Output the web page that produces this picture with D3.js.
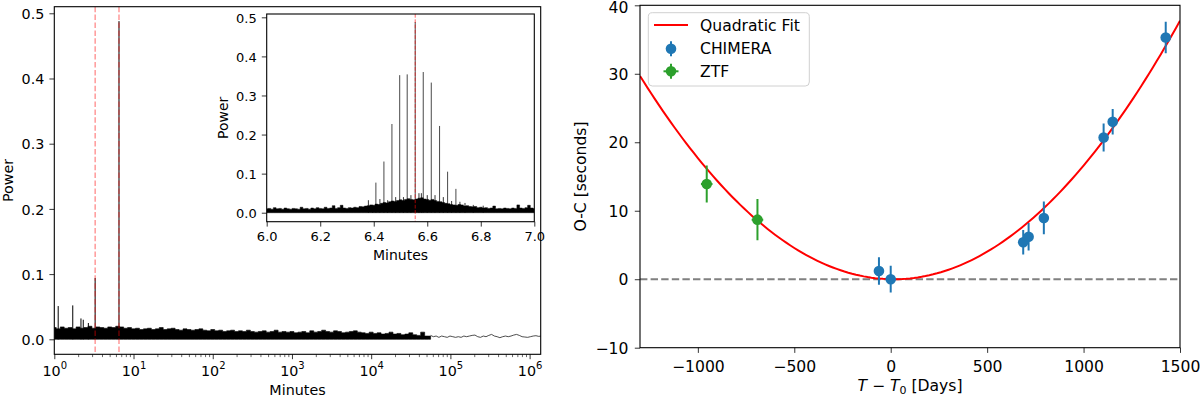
<!DOCTYPE html>
<html>
<head>
<meta charset="utf-8">
<script src="https://cdn.jsdelivr.net/npm/d3@7"></script>
<style>
  body { margin: 0; background: #fff; }
  text { font-family: "DejaVu Sans", sans-serif; fill: #000; }
</style>
</head>
<body>
<svg id="chart" width="1200" height="396"></svg>
<script>
// ---------------- data ----------------
// periodogram peaks (minutes)
var peakMinutes = 6.555;
var halfPeakMinutes = 3.2775;

// noise band of the full periodogram: upper envelope of power,
// sampled on log10(minutes) from 0 to 4.75 every 0.05
var bandLogStart = 0, bandLogStep = 0.05;
var bandPower = [
  0.018,0.016,0.019,0.017,0.018,0.016,0.019,0.017,0.018,0.020,
  0.017,0.019,0.018,0.017,0.019,0.018,0.020,0.019,0.017,0.018,
  0.016,0.017,0.015,0.016,0.017,0.015,0.016,0.018,0.015,0.016,
  0.017,0.015,0.014,0.016,0.015,0.014,0.015,0.016,0.014,0.013,
  0.015,0.013,0.014,0.012,0.013,0.014,0.012,0.013,0.012,0.014,
  0.012,0.011,0.012,0.013,0.011,0.012,0.014,0.011,0.012,0.011,
  0.012,0.010,0.011,0.012,0.010,0.013,0.011,0.012,0.014,0.012,
  0.011,0.013,0.012,0.010,0.011,0.012,0.013,0.011,0.010,0.009,
  0.011,0.009,0.010,0.008,0.009,0.011,0.008,0.009,0.007,0.008,
  0.010,0.007,0.006,0.011,0.005,0.005
];
// long-period tail: log10(minutes) from 4.75 every 0.035
var tailLogStart = 4.75, tailLogStep = 0.035;
var tailPower = [
  0.006,0.004,0.005,0.003,0.005,0.004,0.003,0.005,0.004,0.003,
  0.004,0.003,0.005,0.004,0.005,0.006,0.0065,0.004,0.003,0.005,
  0.004,0.006,0.0075,0.005,0.004,0.0025,0.004,0.005,0.004,0.005,
  0.0065,0.0075,0.006,0.004,0.0035,0.003,0.004,0.005,0.0055,0.0045,0.005
];
// isolated spikes in the full periodogram
var spikeMinutes = [1.12, 1.71, 2.17, 2.32, 2.69, 3.2775, 6.555];
var spikePower   = [0.051, 0.052, 0.032, 0.030, 0.025, 0.094, 0.488];

// inset: zoom 6-7 minutes
var insetLogStart = 6.0, insetStep = 0.01;
var insetBand = [
  0.010,0.011,0.009,0.013,0.010,0.011,0.009,0.012,0.010,0.009,
  0.011,0.010,0.009,0.014,0.010,0.011,0.009,0.012,0.010,0.013,
  0.011,0.010,0.014,0.011,0.012,0.018,0.011,0.013,0.019,0.012,
  0.011,0.013,0.012,0.014,0.013,0.016,0.015,0.017,0.018,0.020,
  0.019,0.022,0.021,0.024,0.026,0.025,0.028,0.030,0.029,0.031,
  0.033,0.031,0.034,0.036,0.034,0.033,0.035,0.037,0.038,0.035,
  0.034,0.032,0.034,0.031,0.029,0.028,0.026,0.024,0.023,0.021,
  0.020,0.019,0.021,0.020,0.017,0.018,0.016,0.015,0.016,0.013,
  0.014,0.012,0.013,0.011,0.012,0.017,0.010,0.011,0.010,0.012,
  0.011,0.010,0.012,0.011,0.020,0.012,0.011,0.013,0.019,0.012,
  0.011
];
var insetPeakMin = [6.408,6.438,6.468,6.497,6.525,6.555,6.585,6.615,6.646,6.676,6.707];
var insetPeakPow = [0.077,0.131,0.227,0.352,0.354,0.488,0.360,0.333,0.222,0.105,0.061];
var insetSideMin = [6.380,6.396,6.423,6.452,6.482,6.511,6.539,6.569,6.578,6.600,6.629,6.660,6.691,6.722,6.741,6.772,6.809];
var insetSidePow = [0.032,0.020,0.035,0.032,0.040,0.040,0.045,0.050,0.050,0.045,0.045,0.040,0.030,0.028,0.025,0.020,0.018];

// O-C diagram
var chimeraT   = [-61, 0, 687, 715, 794, 1104, 1151, 1426];
var chimeraOC  = [1.2, 0.0, 5.4, 6.2, 8.95, 20.7, 23.0, 35.3];
var chimeraErr = [2.0, 1.95, 1.8, 2.0, 2.4, 2.05, 1.85, 2.3];
var ztfT    = [-954, -691];
var ztfOC   = [13.9, 8.7];
var ztfErr  = [2.7, 3.0];
var ztfTErr = [30, 30];
// quadratic fit  O-C = a (T - t0)^2
var fitA = 1.714e-5, fitT0 = 16;

var mainYTicks = [0, 0.1, 0.2, 0.3, 0.4, 0.5];
var insetXTicks = [6.0, 6.2, 6.4, 6.6, 6.8, 7.0];
var ocXTicks = [-1000, -500, 0, 500, 1000, 1500];
var ocYTicks = [-10, 0, 10, 20, 30, 40];

// ---------------- drawing ----------------
var svg = d3.select("#chart");
var blue = "#1f77b4", green = "#2ca02c";
var fsL = 14.3, fsR = 15.6;

function styleAxis(g, fs) {
  g.select(".domain").remove();
  g.selectAll(".tick line").attr("stroke", "#000").attr("stroke-width", 0.8);
  g.selectAll(".tick text").attr("fill", "#000").style("font-size", fs + "px")
    .style("font-family", "DejaVu Sans");
}
function frame(x0, y0, x1, y1) {
  svg.append("rect").attr("x", x0).attr("y", y0).attr("width", x1 - x0).attr("height", y1 - y0)
    .attr("fill", "none").attr("stroke", "#000").attr("stroke-width", 1.1);
}

// ===== left: full periodogram =====
var L = {x0: 54.3, x1: 540.7, y0: 6.7, y1: 354.3};
var mx = d3.scaleLog().domain([1, Math.pow(10, 6.14)]).range([L.x0, L.x1]);
var my = d3.scaleLinear().domain([-0.023, 0.5101]).range([L.y1, L.y0]);

svg.append("clipPath").attr("id", "clipL").append("rect")
  .attr("x", L.x0).attr("y", L.y0).attr("width", L.x1 - L.x0).attr("height", L.y1 - L.y0);
var gl = svg.append("g").attr("clip-path", "url(#clipL)");

var band = bandPower.map(function(p, i) { return {m: Math.pow(10, bandLogStart + i * bandLogStep), p: p}; });
var tail = tailPower.map(function(p, i) { return {m: Math.pow(10, tailLogStart + i * tailLogStep), p: p}; });

gl.append("path").datum(band)
  .attr("d", d3.area().curve(d3.curveStep)
    .x(function(d) { return mx(d.m); }).y0(my(0)).y1(function(d) { return my(d.p); }))
  .attr("fill", "#000").attr("stroke", "#000").attr("stroke-width", 0.6);
gl.append("path").datum(tail)
  .attr("d", d3.line().x(function(d) { return mx(d.m); }).y(function(d) { return my(d.p); }))
  .attr("fill", "none").attr("stroke", "#222").attr("stroke-width", 0.8);
gl.selectAll("line.spike").data(spikeMinutes).enter().append("line")
  .attr("x1", function(d) { return mx(d); }).attr("x2", function(d) { return mx(d); })
  .attr("y1", my(0)).attr("y2", function(d, i) { return my(spikePower[i]); })
  .attr("stroke", "#000").attr("stroke-width", 1);
gl.selectAll("line.period").data([halfPeakMinutes, peakMinutes]).enter().append("line")
  .attr("x1", function(d) { return mx(d); }).attr("x2", function(d) { return mx(d); })
  .attr("y1", L.y0).attr("y2", L.y1)
  .attr("stroke", "red").attr("stroke-opacity", 0.5).attr("stroke-width", 1.2)
  .attr("stroke-dasharray", "5.5,2.4");

// log x axis
var majors = d3.range(0, 7).map(function(k) { return Math.pow(10, k); });
var minors = [];
majors.slice(0, 6).forEach(function(b) { for (var m = 2; m <= 9; m++) minors.push(m * b); });
var gxMin = svg.append("g").attr("transform", "translate(0," + L.y1 + ")")
  .call(d3.axisBottom(mx).tickValues(minors).tickSize(2.8).tickFormat(""));
styleAxis(gxMin, fsL);
gxMin.selectAll(".tick line").attr("stroke-width", 0.6);
var gx = svg.append("g").attr("transform", "translate(0," + L.y1 + ")")
  .call(d3.axisBottom(mx).tickValues(majors).tickSize(4.9).tickFormat(""));
styleAxis(gx, fsL);
gx.selectAll(".tick").each(function(d) {
  var t = d3.select(this).append("text").attr("y", 21.3).attr("text-anchor", "middle")
    .attr("fill", "#000").style("font-size", fsL + "px");
  t.append("tspan").text("10");
  t.append("tspan").attr("dy", -6.4).style("font-size", "10px").text(Math.round(Math.log10(d)));
});
var gy = svg.append("g").attr("transform", "translate(" + L.x0 + ",0)")
  .call(d3.axisLeft(my).tickValues(mainYTicks).tickSize(4.9).tickPadding(5.1).tickFormat(d3.format(".1f")));
styleAxis(gy, fsL);
gy.selectAll(".tick text").attr("dy", "0.36em");
frame(L.x0, L.y0, L.x1, L.y1);

svg.append("text").attr("transform", "translate(13.3," + (L.y0 + L.y1) / 2 + ") rotate(-90)")
  .attr("text-anchor", "middle").style("font-size", fsL + "px").text("Power");
svg.append("text").attr("x", (L.x0 + L.x1) / 2).attr("y", 394.5)
  .attr("text-anchor", "middle").style("font-size", fsL + "px").text("Minutes");

// ===== inset =====
var I = {x0: 266.7, x1: 534.3, y0: 14, y1: 221.7};
var ix = d3.scaleLinear().domain([6, 7]).range([I.x0, I.x1]);
var iy = d3.scaleLinear().domain([-0.023, 0.5085]).range([I.y1, I.y0]);
svg.append("rect").attr("x", I.x0).attr("y", I.y0).attr("width", I.x1 - I.x0).attr("height", I.y1 - I.y0)
  .attr("fill", "#fff");
svg.append("clipPath").attr("id", "clipI").append("rect")
  .attr("x", I.x0).attr("y", I.y0).attr("width", I.x1 - I.x0).attr("height", I.y1 - I.y0);
var gi = svg.append("g").attr("clip-path", "url(#clipI)");

var iband = insetBand.map(function(p, i) { return {m: insetLogStart + i * insetStep, p: p}; });
gi.append("path").datum(iband)
  .attr("d", d3.area().curve(d3.curveStep)
    .x(function(d) { return ix(d.m); }).y0(iy(0)).y1(function(d) { return iy(d.p); }))
  .attr("fill", "#000").attr("stroke", "#000").attr("stroke-width", 0.5);
gi.selectAll("line.side").data(insetSideMin).enter().append("line")
  .attr("x1", function(d) { return ix(d); }).attr("x2", function(d) { return ix(d); })
  .attr("y1", iy(0)).attr("y2", function(d, i) { return iy(insetSidePow[i]); })
  .attr("stroke", "#000").attr("stroke-width", 0.8);
gi.selectAll("line.peak").data(insetPeakMin).enter().append("line")
  .attr("x1", function(d) { return ix(d); }).attr("x2", function(d) { return ix(d); })
  .attr("y1", iy(0)).attr("y2", function(d, i) { return iy(insetPeakPow[i]); })
  .attr("stroke", "#000").attr("stroke-opacity", 0.8).attr("stroke-width", 0.9);
gi.append("line").attr("x1", ix(peakMinutes)).attr("x2", ix(peakMinutes))
  .attr("y1", I.y0).attr("y2", I.y1)
  .attr("stroke", "red").attr("stroke-opacity", 0.6).attr("stroke-width", 1)
  .attr("stroke-dasharray", "3.7,1.6");

var gix = svg.append("g").attr("transform", "translate(0," + I.y1 + ")")
  .call(d3.axisBottom(ix).tickValues(insetXTicks).tickSize(4.9).tickFormat(d3.format(".1f")));
styleAxis(gix, 13);
gix.selectAll(".tick text").attr("y", 19.5).attr("dy", null);
var giy = svg.append("g").attr("transform", "translate(" + I.x0 + ",0)")
  .call(d3.axisLeft(iy).tickValues(mainYTicks).tickSize(4.9).tickPadding(5.1).tickFormat(d3.format(".1f")));
styleAxis(giy, 13);
giy.selectAll(".tick text").attr("dy", "0.36em");
frame(I.x0, I.y0, I.x1, I.y1);
svg.append("text").attr("transform", "translate(228.3," + (I.y0 + I.y1) / 2 + ") rotate(-90)")
  .attr("text-anchor", "middle").style("font-size", "14px").text("Power");
svg.append("text").attr("x", (I.x0 + I.x1) / 2).attr("y", 260)
  .attr("text-anchor", "middle").style("font-size", "14px").text("Minutes");

// ===== right: O-C diagram =====
var R = {x0: 640, x1: 1180, y0: 5.3, y1: 347.7};
var ox = d3.scaleLinear().domain([-1300, 1500]).range([R.x0, R.x1]);
var oy = d3.scaleLinear().domain([-10, 40]).range([R.y1, R.y0]);
svg.append("clipPath").attr("id", "clipR").append("rect")
  .attr("x", R.x0).attr("y", R.y0).attr("width", R.x1 - R.x0).attr("height", R.y1 - R.y0);
var gr = svg.append("g").attr("clip-path", "url(#clipR)");

gr.append("line").attr("x1", R.x0).attr("x2", R.x1).attr("y1", oy(0)).attr("y2", oy(0))
  .attr("stroke", "#808080").attr("stroke-width", 2).attr("stroke-dasharray", "7.4,3.2");

var fitT = d3.range(-1300, 1501, 20);
gr.append("path").datum(fitT)
  .attr("d", d3.line().x(function(t) { return ox(t); })
    .y(function(t) { return oy(fitA * (t - fitT0) * (t - fitT0)); }))
  .attr("fill", "none").attr("stroke", "red").attr("stroke-width", 2);

function errPoints(ts, vs, es, xes, color) {
  var g = gr.append("g");
  ts.forEach(function(t, i) {
    g.append("line").attr("x1", ox(t)).attr("x2", ox(t))
      .attr("y1", oy(vs[i] - es[i])).attr("y2", oy(vs[i] + es[i]))
      .attr("stroke", color).attr("stroke-width", 2);
    if (xes) g.append("line").attr("x1", ox(t - xes[i])).attr("x2", ox(t + xes[i]))
      .attr("y1", oy(vs[i])).attr("y2", oy(vs[i]))
      .attr("stroke", color).attr("stroke-width", 2);
  });
  g.selectAll("circle").data(ts).enter().append("circle")
    .attr("cx", function(t) { return ox(t); }).attr("cy", function(t, i) { return oy(vs[i]); })
    .attr("r", 5.3).attr("fill", color);
}
errPoints(chimeraT, chimeraOC, chimeraErr, null, blue);
errPoints(ztfT, ztfOC, ztfErr, ztfTErr, green);

var gox = svg.append("g").attr("transform", "translate(0," + R.y1 + ")")
  .call(d3.axisBottom(ox).tickValues(ocXTicks).tickSize(5.2).tickFormat(d3.format("d")));
styleAxis(gox, fsR);
gox.selectAll(".tick text").attr("y", 24.5).attr("dy", null);
var goy = svg.append("g").attr("transform", "translate(" + R.x0 + ",0)")
  .call(d3.axisLeft(oy).tickValues(ocYTicks).tickSize(5.2).tickPadding(6.5).tickFormat(d3.format("d")));
styleAxis(goy, fsR);
goy.selectAll(".tick text").attr("dy", "0.36em");
goy.selectAll(".tick text").filter(function(d) { return d === 40; }).attr("dy", "0.45em");
frame(R.x0, R.y0, R.x1, R.y1);

svg.append("text").attr("transform", "translate(585.5," + (R.y0 + R.y1) / 2 + ") rotate(-90)")
  .attr("text-anchor", "middle").style("font-size", fsR + "px").text("O-C [seconds]");
var xl = svg.append("text").attr("x", (R.x0 + R.x1) / 2).attr("y", 391.3)
  .attr("text-anchor", "middle").style("font-size", fsR + "px");
xl.append("tspan").style("font-style", "italic").text("T");
xl.append("tspan").text(" \u2212 ");
xl.append("tspan").style("font-style", "italic").text("T");
xl.append("tspan").attr("dy", 3).style("font-size", "11px").text("0");
xl.append("tspan").attr("dy", -3).text(" [Days]");

// legend
var lg = svg.append("g");
lg.append("rect").attr("x", 648.3).attr("y", 12.7).attr("width", 161).attr("height", 73.3)
  .attr("rx", 4).attr("fill", "#fff").attr("fill-opacity", 0.8)
  .attr("stroke", "#d0d0d0").attr("stroke-width", 1);
var legendItems = ["Quadratic Fit", "CHIMERA", "ZTF"];
var legendY = [25, 48.7, 71.3];
lg.append("line").attr("x1", 654).attr("x2", 688).attr("y1", legendY[0]).attr("y2", legendY[0])
  .attr("stroke", "red").attr("stroke-width", 2);
lg.append("line").attr("x1", 671).attr("x2", 671).attr("y1", legendY[1] - 7.5).attr("y2", legendY[1] + 7.5)
  .attr("stroke", blue).attr("stroke-width", 2);
lg.append("circle").attr("cx", 671).attr("cy", legendY[1]).attr("r", 5.3).attr("fill", blue);
lg.append("line").attr("x1", 671).attr("x2", 671).attr("y1", legendY[2] - 7.5).attr("y2", legendY[2] + 7.5)
  .attr("stroke", green).attr("stroke-width", 2);
lg.append("line").attr("x1", 663.5).attr("x2", 678.5).attr("y1", legendY[2]).attr("y2", legendY[2])
  .attr("stroke", green).attr("stroke-width", 2);
lg.append("circle").attr("cx", 671).attr("cy", legendY[2]).attr("r", 5.3).attr("fill", green);
lg.selectAll("text").data(legendItems).enter().append("text")
  .attr("x", 700).attr("y", function(d, i) { return legendY[i] + 5.6; })
  .style("font-size", fsR + "px").text(function(d) { return d; });
</script>
</body>
</html>
